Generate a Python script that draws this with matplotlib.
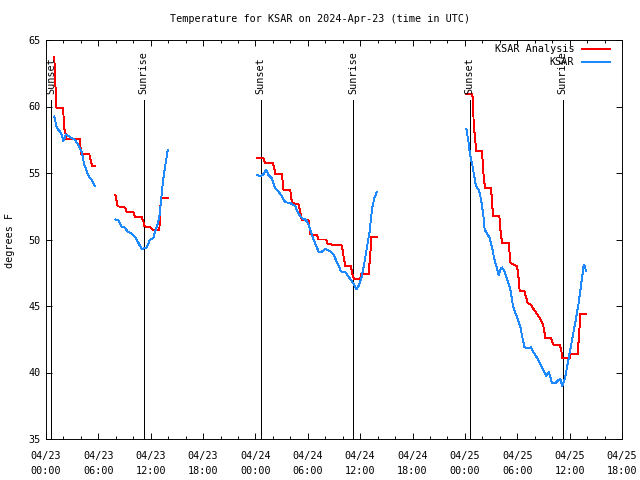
"""
Temperature for KSAR (observations vs. analysis) with sunrise / sunset markers.
Hours are counted from 2024-04-23 00:00 UTC.
"""

import numpy as np
import matplotlib
matplotlib.use("Agg")
import matplotlib.pyplot as plt
from matplotlib.lines import Line2D
from matplotlib.ticker import MultipleLocator

nan = np.nan

# --- data (hours since 04/23 00:00 UTC, degrees F); nan splits the gaps ---
analysis_hours = [
    0.95, 1.05, 1.2, 1.98, 2.05, 2.2, 2.3, 3.9, 4.0, 4.97, 5.1, 5.28, 5.62, nan,
    7.95, 8.22, 9.06, 9.25, 10.01, 10.21, 10.97, 11.16, 11.27, 12.01, 12.31,
    12.99, 13.07, 13.19, 13.96, nan,
    24.23, 24.92, 25.11, 26.0, 26.15, 26.26, 27.03, 27.21, 27.98, 28.18, 28.93,
    29.13, 29.32, 30.08, 30.28, 30.47, 31.04, 31.23, 32.11, 32.26, 33.14, 33.91,
    34.09, 34.29, 34.94, 35.17, 35.32, 36.01, 36.12, 36.96, 37.16, 37.27, 37.92, nan,
    48.17, 48.82, 48.93, 49.0, 49.2, 49.31, 49.97, 50.08, 50.23, 50.34, 51.0,
    51.11, 51.23, 51.95, 52.06, 52.26, 53.02, 53.21, 53.98, 54.17, 54.28, 54.82,
    55.2, 55.58, 55.88, 56.27, 56.65, 56.96, 57.22, 57.88, 58.11, 58.87, 59.03,
    59.14, 60.01, 60.09, 60.93, 61.04, 61.24, 61.89,
]
analysis_temp = [
    63.7, 62.0, 59.9, 59.9, 58.3, 58.2, 57.55, 57.55, 56.4, 56.4, 56.0, 55.5, 55.5, nan,
    53.35, 52.5, 52.4, 52.1, 52.05, 51.7, 51.7, 51.35, 51.0, 50.9, 50.7,
    50.7, 52.2, 53.1, 53.1, nan,
    56.1, 56.1, 55.75, 55.75, 55.4, 54.9, 54.9, 53.75, 53.75, 52.75, 52.65,
    52.1, 51.45, 51.45, 50.4, 50.35, 50.35, 50.0, 50.0, 49.65, 49.6, 49.55,
    48.75, 48.0, 48.0, 47.2, 47.05, 47.05, 47.4, 47.4, 48.85, 50.2, 50.2, nan,
    60.95, 60.95, 60.5, 58.75, 57.35, 56.65, 56.65, 55.25, 54.25, 53.85, 53.85,
    52.75, 51.75, 51.75, 50.75, 49.75, 49.75, 48.25, 48.0, 47.0, 46.1, 46.1,
    45.2, 45.1, 44.75, 44.4, 44.0, 43.6, 42.6, 42.6, 42.1, 42.05, 41.75,
    41.1, 41.05, 41.4, 41.4, 42.5, 44.4, 44.4,
]

obs_hours = [
    0.95, 1.23, 1.61, 1.80, 1.98, 2.29, 2.75, 3.33, 3.70, 4.09, 4.36, 4.67,
    4.97, 5.31, 5.62, nan,
    7.95, 8.29, 8.68, 9.06, 9.32, 9.83, 10.21, 10.47, 10.78, 10.97, 11.47,
    11.73, 11.93, 12.31, 12.5, 12.76, 12.99, 13.19, 13.38, 13.65, 13.96, nan,
    24.23, 24.54, 24.85, 25.23, 25.49, 25.88, 26.26, 26.64, 27.03, 27.41, 27.98,
    28.56, 28.93, 29.32, 29.7, 29.97, 30.28, 30.65, 31.23, 31.54, 32.0, 32.57,
    32.95, 33.41, 33.8, 34.29, 34.78, 35.17, 35.55, 35.81, 36.12, 36.39, 36.78,
    37.08, 37.35, 37.61, 37.92, nan,
    48.17, 48.31, 48.43, 48.54, 48.7, 48.85, 49.0, 49.2, 49.39, 49.58, 49.77,
    49.97, 50.15, 50.26, 50.54, 50.84, 51.11, 51.3, 51.49, 51.76, 51.87, 52.06,
    52.26, 52.52, 52.83, 53.1, 53.29, 53.41, 53.59, 54.0, 54.36, 54.55, 54.82,
    55.2, 55.58, 55.88, 56.27, 56.65, 57.03, 57.34, 57.6, 57.99, 58.37, 58.75,
    58.94, 59.14, 59.32, 59.52, 59.9, 60.29, 60.67, 61.04, 61.35, 61.62, 61.73,
    61.89,
]
obs_temp = [
    59.25, 58.4, 58.1, 57.9, 57.4, 57.9, 57.7, 57.5, 57.1, 56.6, 55.7, 55.1,
    54.7, 54.4, 54.0, nan,
    51.5, 51.45, 50.95, 50.9, 50.6, 50.45, 50.2, 49.9, 49.5, 49.3, 49.35,
    49.7, 50.0, 50.1, 50.6, 51.1, 51.7, 52.95, 54.25, 55.5, 56.75, nan,
    54.85, 54.75, 54.85, 55.25, 54.85, 54.6, 53.85, 53.6, 53.25, 52.8, 52.75,
    52.5, 51.95, 51.6, 51.5, 51.3, 50.75, 50.0, 49.1, 49.05, 49.3, 49.1,
    48.85, 48.2, 47.6, 47.55, 47.1, 46.75, 46.25, 46.5, 47.05, 47.9, 49.4,
    50.6, 52.25, 53.1, 53.6, nan,
    58.3, 57.75, 57.25, 56.6, 56.0, 55.6, 55.0, 54.25, 53.85, 53.75, 53.25,
    52.5, 51.6, 50.75, 50.45, 50.1, 49.4, 48.75, 48.25, 47.6, 47.3, 47.75,
    47.9, 47.6, 47.0, 46.5, 46.0, 45.35, 44.85, 44.1, 43.4, 42.75, 41.9,
    41.8, 41.9, 41.5, 41.1, 40.6, 40.1, 39.75, 40.05, 39.2, 39.2, 39.45,
    39.5, 39.0, 39.25, 39.75, 41.1, 42.5, 43.85, 45.25, 46.75, 48.1, 48.0,
    47.6,
]

sunset_hours = [0.6, 24.6, 48.55]
sunrise_hours = [11.2, 35.2, 59.2]

tick_hours = [0, 6, 12, 18, 24, 30, 36, 42, 48, 54, 60, 66]
tick_labels = [
    "04/23\n00:00", "04/23\n06:00", "04/23\n12:00", "04/23\n18:00",
    "04/24\n00:00", "04/24\n06:00", "04/24\n12:00", "04/24\n18:00",
    "04/25\n00:00", "04/25\n06:00", "04/25\n12:00", "04/25\n18:00",
]

RED = "#ff0000"
BLUE = "#1e88ff"
FONT = "DejaVu Sans Mono"
FS = 7.3
LW = 0.68  # one pixel at 100 dpi

plt.rcParams["font.family"] = FONT
plt.rcParams["font.size"] = FS

fig = plt.figure(figsize=(6.4, 4.8), dpi=100)
ax = fig.add_axes([46 / 640, 1 - 439 / 480, 576 / 640, 399 / 480])

# sunrise / sunset markers
for h in sunset_hours:
    ax.vlines(h, 35, 60.5, color="black", linewidth=LW, antialiased=False)
    ax.text(h, 60.95, "Sunset", rotation=90, ha="center", va="bottom", fontsize=FS)
for h in sunrise_hours:
    ax.vlines(h, 35, 60.5, color="black", linewidth=LW, antialiased=False)
    ax.text(h, 60.95, "Sunrise", rotation=90, ha="center", va="bottom", fontsize=FS)

# series
ax.plot(analysis_hours, analysis_temp, color=RED, linewidth=LW, antialiased=False)
ax.plot(obs_hours, obs_temp, color=BLUE, linewidth=LW, antialiased=False)

# axes look (gnuplot style: inward ticks mirrored on all sides)
ax.set_xlim(0, 66)
ax.set_ylim(35, 65)
ax.set_xticks(tick_hours)
ax.set_xticklabels(tick_labels, linespacing=1.65)
ax.xaxis.set_minor_locator(MultipleLocator(2))
ax.set_yticks(np.arange(35, 66, 5))
ax.tick_params(which="both", direction="in", top=True, right=True, width=LW,
               color="black", labelsize=FS)
ax.tick_params(which="major", length=4.5)
ax.tick_params(which="minor", length=2.4)
ax.tick_params(axis="x", pad=8.5)
ax.tick_params(axis="y", pad=4)
for sp in ax.spines.values():
    sp.set_linewidth(LW)

# legend drawn by hand so the labels are right-aligned like gnuplot's key
legend_rows = [("KSAR Analysis", RED, 0.977), ("KSAR", BLUE, 0.944)]
for label, col, yy in legend_rows:
    ax.text(0.917, yy, label, transform=ax.transAxes, ha="right", va="center", fontsize=FS)
    ax.add_line(Line2D([0.930, 0.979], [yy, yy], transform=ax.transAxes,
                       color=col, linewidth=1.3, antialiased=False))

fig.text(0.5, 1 - 19 / 480, "Temperature for KSAR on 2024-Apr-23 (time in UTC)",
         ha="center", va="center", fontsize=FS)
fig.text(10 / 640, 0.5, "degrees F", rotation=90, ha="center", va="center", fontsize=FS)

fig.savefig("out.png", dpi=100)
plt.close(fig)
